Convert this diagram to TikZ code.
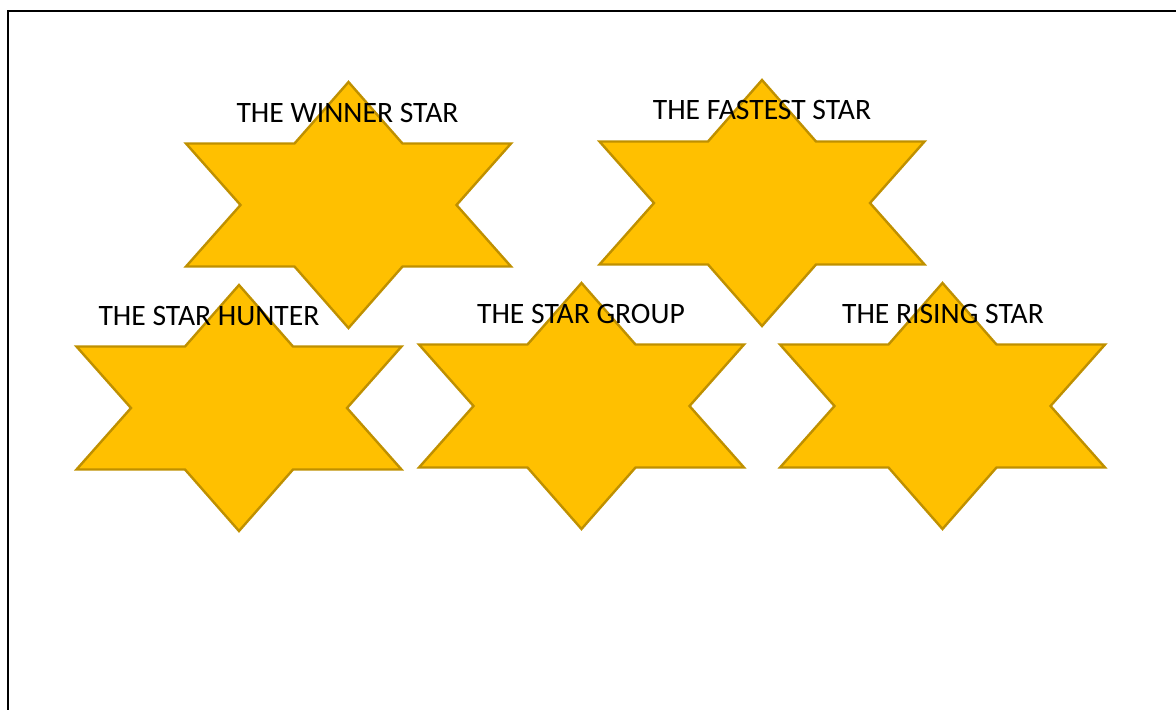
\documentclass[tikz,border=0pt]{standalone}
\usepackage{fontspec}
\setmainfont{Carlito}
\usepackage{tikz}
\usetikzlibrary{positioning}

\definecolor{stargold}{HTML}{FFC000}
\definecolor{stardark}{HTML}{BF9000}

\begin{document}
\begin{tikzpicture}[
    x=0.5pt, y=-0.5pt,
    starshape/.style={fill=stargold, draw=stardark, line width=1.2pt, line join=miter},
    startext/.style={font=\fontsize{14.8}{18}\selectfont, anchor=base, inner sep=0pt},
    frame/.style={draw=black, line width=1.3pt}
]
\useasboundingbox (0,0) rectangle (1176,709);

% Page frame (runs off the right and bottom)
\draw[frame] (8,11) rectangle (1200,740);

% Six-pointed stars
\foreach \cx/\cy in {348.5/205, 762/203, 239/408, 581.5/406, 942.5/406} {
    \draw[starshape, shift={(\cx,\cy)}]
        (0,-123) -- (-54,-61.5) -- (-162.5,-61.5) -- (-108,0)
        -- (-162.5,61.5) -- (-54,61.5) -- (0,123) -- (54,61.5)
        -- (162.5,61.5) -- (108,0) -- (162.5,-61.5) -- (54,-61.5) -- cycle;
}

% Labels
\node[startext] (winner)  at (347.5,122) {THE WINNER STAR};
\node[startext] (fastest) at (762,119)   {THE FASTEST STAR};
\node[startext] (hunter)  at (209,325)   {THE STAR HUNTER};
\node[startext] (group)   at (581,323)   {THE STAR GROUP};
\node[startext] (rising)  at (943,323)   {THE RISING STAR};
\end{tikzpicture}
\end{document}
